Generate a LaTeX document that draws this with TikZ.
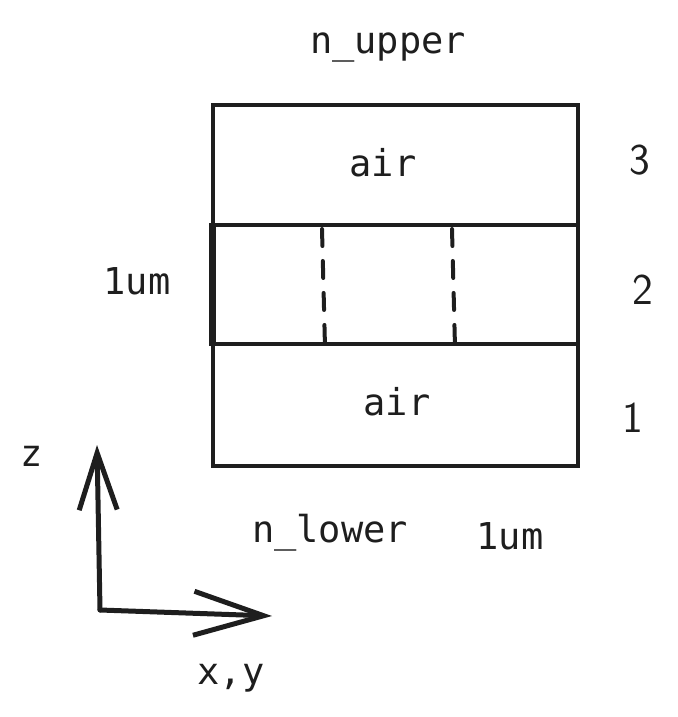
\documentclass[tikz,border=0pt]{standalone}
\usepackage{fontspec}
\setmonofont{DejaVu Sans Mono}
\usetikzlibrary{arrows.meta}
\definecolor{ink}{HTML}{1E1E1E}
\begin{document}
\begin{tikzpicture}[x=1pt,y=-1pt,
  lbl/.style={font=\fontsize{37}{44}\selectfont\ttfamily, text=ink, inner sep=0pt},
  hand/.style={font=\fontsize{44}{50}\selectfont\sffamily, text=ink, inner sep=0pt},
  layer/.style={draw=ink, line width=4pt, minimum width=365pt, inner sep=0pt},
  axis/.style={draw=ink, line width=5pt, line cap=round},
  dashsep/.style={draw=ink, line width=4pt, dash pattern=on 17pt off 15pt, line cap=round}]
\useasboundingbox (0,0) rectangle (677,717);
% layers
\node[layer, minimum height=120pt, anchor=north west] (L3) at (211,103) {};
\node[layer, minimum height=119pt, anchor=north west] (L2) at (211,223) {};
\node[layer, minimum height=122pt, anchor=north west] (L1) at (211,342) {};
\draw[ink, line width=7pt] ([xshift=1.5pt]L2.north west) -- ([xshift=1.5pt]L2.south west);
% dashed boundaries
\coordinate (d1t) at (322,229); \coordinate (d1b) at (325,347);
\coordinate (d2t) at (452,229); \coordinate (d2b) at (455,347);
\draw[dashsep] (d1t) -- (d1b);
\draw[dashsep] (d2t) -- (d2b);
% texts
\node[lbl] (nup) at (388,48) {n\_upper};
\node[lbl] (air3) at (383,163) {air};
\node[lbl] (air1) at (397,402) {air};
\node[lbl] (nlow) at (330,533) {n\_lower};
\node[lbl] (umx) at (510,536) {1um};
\node[lbl] (umz) at (137,281) {1um};
\node[hand] (n3) at (640,160) {3};
\node[hand] (n2) at (643,290) {2};
\node[hand] (n1) at (633,418) {1};
\node[lbl] (zl) at (32,456) {z};
\node[lbl] (xyl) at (231,678) {x,y};
% axes
\coordinate (O) at (100,610);
\coordinate (Z) at (97,445);
\coordinate (X) at (272,616);
\draw[axis, -{Straight Barb[length=57pt,width=38pt,line width=5pt]}] (O) -- (Z);
\draw[axis, -{Straight Barb[length=70pt,width=44pt,line width=5pt]}] (O) -- (X);
\end{tikzpicture}
\end{document}
